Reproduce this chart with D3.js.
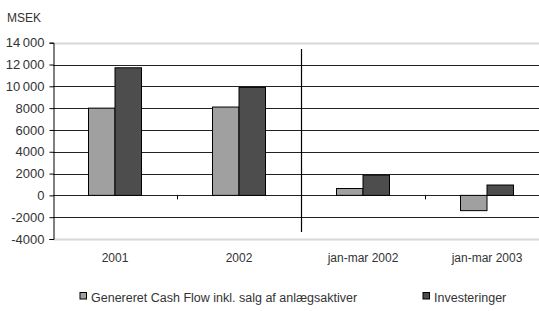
<!DOCTYPE html>
<html>
<head>
<meta charset="utf-8">
<script src="https://cdn.jsdelivr.net/npm/d3@7"></script>
<style>
body { margin: 0; background: #fff; }
text { font-family: "Liberation Sans", Arial, sans-serif; font-size: 12px; fill: #333; }
</style>
</head>
<body>
<div id="chart"></div>
<script>
var width = 539;
var height = 311;

var categories = ["2001", "2002", "jan-mar 2002", "jan-mar 2003"];
var seriesNames = ["Genereret Cash Flow inkl. salg af anlægsaktiver", "Investeringer"];
var cashFlow = [8000, 8100, 630, -1400];
var investments = [11700, 9900, 1850, 950];
var yTicks = [-4000, -2000, 0, 2000, 4000, 6000, 8000, 10000, 12000, 14000];
var colors = ["#a0a0a0", "#4d4d4d"];

var data = categories.map(function(c, i) {
	return { cat: c, values: [cashFlow[i], investments[i]] };
});

var svg = d3.select("#chart")
	.append("svg")
	.attr("width", width)
	.attr("height", height);

// scales
var xScale = d3.scaleBand().domain(categories).range([53, 549]);
var yScale = d3.scaleLinear().domain([-4000, 14000]).range([239, 42.7]);
var barW = 26.5;

function fmt(v) {
	var s = String(Math.abs(v));
	if (s.length > 4) s = s.slice(0, s.length - 3) + "\u2009" + s.slice(-3);
	return (v < 0 ? "-" : "") + s;
}

// gridlines
svg.append("g")
	.selectAll("line")
	.data(yTicks)
	.enter()
	.append("line")
	.attr("x1", 53)
	.attr("x2", width)
	.attr("y1", function(d) { return Math.round(yScale(d)) + 0.5; })
	.attr("y2", function(d) { return Math.round(yScale(d)) + 0.5; })
	.attr("stroke", function(d) { return (d == 14000 || d == -4000) ? "#d8d8d8" : "#222"; })
	.attr("stroke-width", function(d) { return (d == 14000 || d == -4000) ? 2 : 1; });

// y axis
var yAxis = d3.axisLeft(yScale).tickValues(yTicks).tickSize(4).tickFormat(fmt);
var yg = svg.append("g")
	.attr("transform", "translate(53.5,0)")
	.call(yAxis);
yg.select(".domain").attr("stroke", "#000");
yg.selectAll(".tick line").attr("stroke", "#000");
yg.selectAll(".tick text")
	.attr("x", -9)
	.style("font-family", "Liberation Sans, Arial, sans-serif")
	.style("font-size", "13px")
	.attr("fill", "#333");

// bars
var groups = svg.append("g")
	.selectAll("g")
	.data(data)
	.enter()
	.append("g")
	.attr("transform", function(d) { return "translate(" + (xScale(d.cat) + xScale.bandwidth() / 2 - barW) + ",0)"; });

groups.selectAll("rect")
	.data(function(d) { return d.values; })
	.enter()
	.append("rect")
	.attr("x", function(d, i) { return i * barW; })
	.attr("y", function(d) { return yScale(Math.max(0, d)); })
	.attr("width", barW)
	.attr("height", function(d) { return Math.abs(yScale(d) - yScale(0)); })
	.attr("fill", function(d, i) { return colors[i]; })
	.attr("stroke", "#000")
	.attr("stroke-width", 1);

// small ticks on zero line between groups
svg.append("g")
	.selectAll("line")
	.data([categories[1], categories[3]])
	.enter()
	.append("line")
	.attr("x1", function(d) { return Math.round(xScale(d)) + 0.5; })
	.attr("x2", function(d) { return Math.round(xScale(d)) + 0.5; })
	.attr("y1", yScale(0))
	.attr("y2", yScale(0) + 4)
	.attr("stroke", "#000");

// divider between yearly and quarterly
svg.append("line")
	.attr("x1", Math.round(xScale(categories[2])) + 0.5)
	.attr("x2", Math.round(xScale(categories[2])) + 0.5)
	.attr("y1", 49)
	.attr("y2", 232)
	.attr("stroke", "#000")
	.attr("stroke-width", 1.2);

// category labels
svg.append("g")
	.selectAll("text")
	.data(categories)
	.enter()
	.append("text")
	.attr("x", function(d) { return xScale(d) + xScale.bandwidth() / 2; })
	.attr("y", 262)
	.style("text-anchor", "middle")
	.text(function(d) { return d; });

// unit label
svg.append("text")
	.attr("x", 7)
	.attr("y", 22)
	.text("MSEK");

// legend
var legendX = [80, 423];
var legend = svg.append("g")
	.selectAll("g")
	.data(seriesNames)
	.enter()
	.append("g")
	.attr("transform", function(d, i) { return "translate(" + legendX[i] + ",292.5)"; });
legend.append("rect")
	.attr("width", 6.5)
	.attr("height", 6.5)
	.attr("fill", function(d, i) { return colors[i]; })
	.attr("stroke", "#000");
legend.append("text")
	.attr("x", 11)
	.attr("y", 9)
	.style("font-size", "12.5px")
	.text(function(d) { return d; });
</script>
</body>
</html>
